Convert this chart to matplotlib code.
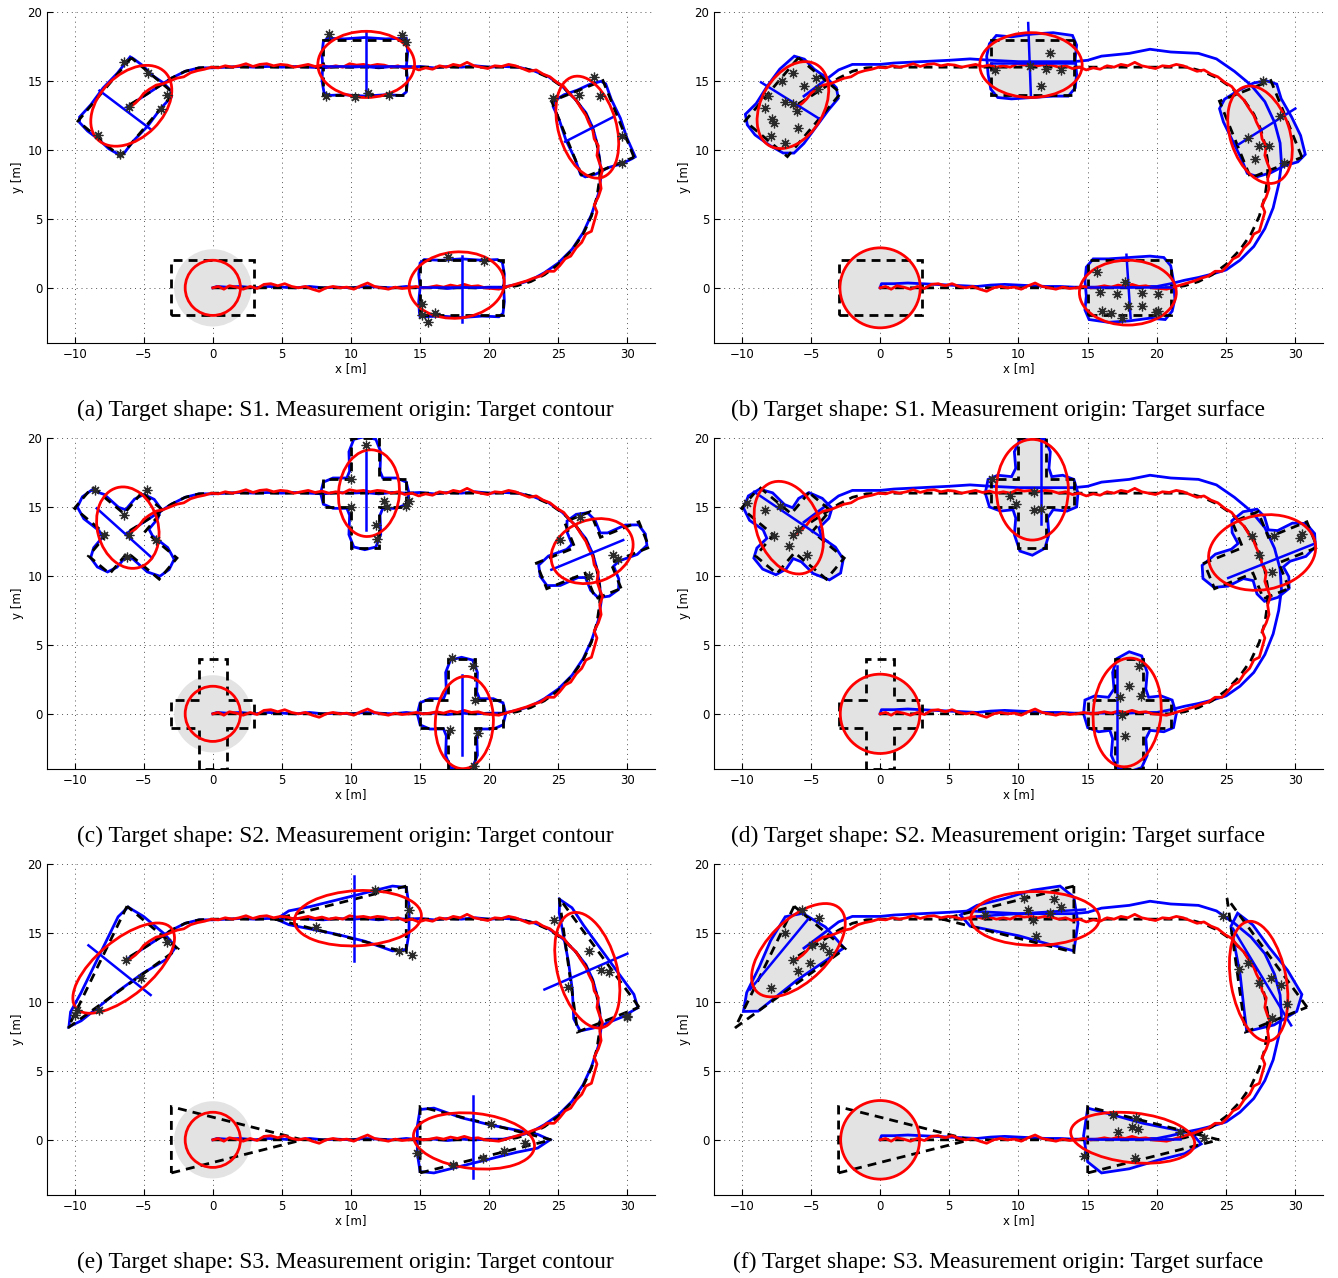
import matplotlib
matplotlib.use('Agg')
import matplotlib.pyplot as plt
from matplotlib.patches import Polygon, Ellipse, Circle
from matplotlib.transforms import Affine2D

# ---------------- data ----------------
# true target poses at the 5 snapshots
pose_x = [0, 18, 27.5, 11, -6.3]
pose_y = [0, 0, 11.5, 16, 13.1]
pose_h = [0, 0, 112, 180, 230]

# true target shapes (local coords, heading along +x)
s1_x = [-3, 3, 3, -3]
s1_y = [-2, -2, 2, 2]
s2_x = [-3, -1, -1, 1, 1, 3, 3, 1, 1, -1, -1, -3]
s2_y = [-1, -1, -4, -4, -1, -1, 1, 1, 4, 4, 1, 1]
s3_x = [-3, 6.5, -3]
s3_y = [-2.4, 0, 2.4]

# estimated contours (local coords)
b1c_x = [-3.0, -1.5, 0, 1.5, 2.7, 3.0, 3.1, 3.05, 3.1, 2.95, 2.6, 1.5, 0, -1.5, -2.7, -3.0, -3.1, -3.0, -3.1, -3.05]
b1c_y = [-2.1, -2.05, -2.15, -2.05, -2.1, -1.85, -1.0, 0, 1.0, 1.85, 2.05, 2.0, 2.1, 2.0, 2.05, 1.8, 1.0, 0, -1.0, -1.8]
b1s_x = [-2.9, -1.5, 0, 1.5, 2.6, 3.1, 3.3, 3.2, 3.0, 2.5, 1.5, 0, -1.5, -2.6, -3.1, -3.2, -3.1, -3.2]
b1s_y = [-2.3, -2.5, -2.4, -2.2, -2.3, -1.7, -0.8, 0.5, 1.6, 2.2, 2.3, 2.2, 2.1, 2.1, 1.5, 0.5, -0.6, -1.6]
b2c_x = [3.2, 3.0, 2.3, 1.3, 1.1, 1.15, 0.8, 0, -0.8, -1.15, -1.1, -1.3, -2.3, -3.0, -3.2, -3.0, -2.3, -1.3, -1.1, -1.15, -0.8, 0, 0.8, 1.15, 1.1, 1.3, 2.3, 3.0]
b2c_y = [0, 0.8, 1.1, 1.1, 1.6, 3.0, 3.9, 4.1, 3.9, 3.0, 1.6, 1.1, 1.1, 0.8, 0, -0.8, -1.1, -1.1, -1.6, -3.0, -3.9, -4.1, -3.9, -3.0, -1.6, -1.1, -1.1, -0.8]
b2s_x = [3.4, 3.1, 2.3, 1.4, 1.2, 1.3, 0.9, 0, -0.9, -1.2, -1.1, -1.5, -2.5, -3.2, -3.3, -3.0, -2.2, -1.4, -1.2, -1.3, -0.9, 0, 0.9, 1.3, 1.2, 1.5, 2.5, 3.2]
b2s_y = [0, 1.0, 1.3, 1.2, 1.8, 3.0, 4.2, 4.5, 4.0, 3.0, 1.8, 1.2, 1.3, 1.0, 0, -1.0, -1.3, -1.2, -1.8, -3.0, -3.9, -4.2, -3.9, -3.0, -1.8, -1.2, -1.3, -1.0]
b3c_x = [-3.0, -2.0, 0, 2, 4, 5.5, 6.4, 5.5, 4, 2, 0, -2, -3.0, -3.2, -3.2]
b3c_y = [2.2, 2.3, 1.6, 1.1, 0.7, 0.4, 0, -0.6, -0.9, -1.4, -1.9, -2.4, -2.3, -1.0, 1.0]
b3s_x = [-3.0, -1.5, 1, 3, 4.5, 5.2, 4.0, 2, 0, -2, -3.0, -3.3]
b3s_y = [2.3, 1.9, 1.2, 0.8, 0.5, -0.3, -1.0, -1.5, -2.1, -2.4, -1.6, 0.3]

# ground truth track (black dashed)
gt_x = [0, 21, 22, 23, 24, 25, 26, 26.8, 27.4, 27.8, 28.0, 28.0, 27.8, 27.5, 27.0, 26.3, 25.4, 24.4, 23.3, 22.2,
        21, 0, -1, -2, -3, -4, -5, -6.3]
gt_y = [0, 0, 0.15, 0.45, 0.95, 1.7, 2.75, 3.9, 5.2, 6.6, 8.0, 9.2, 10.4, 11.5, 12.6, 13.6, 14.5, 15.2, 15.7, 16.0,
        16, 16, 15.95, 15.7, 15.2, 14.55, 13.9, 13.1]

# estimated centre track (red)
red_x = [0, 0.4, 0.8, 1.2, 1.7, 2.2, 2.7, 3.2, 3.7, 4.2, 4.7, 5.2, 5.7, 6.2, 6.7, 7.2, 7.7, 8.2, 8.7, 9.2, 9.7,
         10.2, 10.7, 11.2, 11.7, 12.2, 12.7, 13.2, 13.7, 14.2, 14.7, 15.2, 15.7, 16.2, 16.7, 17.2, 17.7, 18.2,
         18.7, 19.2, 19.7, 20.2, 20.7, 21.2, 21.7, 22.2, 22.7, 23.2, 23.7, 24.2, 24.7, 25.1, 25.5, 25.9, 26.3,
         26.7, 27.0, 27.4, 27.6, 27.8, 27.6, 27.9, 28.1, 28.0, 28.2, 28.0, 27.8, 27.9, 27.6, 27.5, 27.2, 27.0,
         26.6, 26.3, 25.8, 25.4, 24.9, 24.4, 23.9, 23.4, 22.9, 22.4, 21.9, 21.4, 20.9, 20.4, 19.9, 19.4, 18.9,
         18.4, 17.9, 17.4, 16.9, 16.4, 15.9, 15.4, 14.9, 14.4, 13.9, 13.4, 12.9, 12.4, 11.9, 11.4, 10.9, 10.4,
         9.9, 9.4, 8.9, 8.4, 7.9, 7.4, 6.9, 6.4, 5.9, 5.4, 4.9, 4.4, 3.9, 3.4, 2.9, 2.4, 1.9, 1.4, 0.9, 0.4,
         -0.1, -0.6, -1.1, -1.6, -2.1, -2.6, -3.1, -3.6, -4.1, -4.6, -5.0, -5.3, -5.6, -6.0]
red_y = [0, 0.1, -0.1, 0.15, 0.05, -0.1, 0.1, -0.05, 0.25, 0.3, 0.15, 0.3, 0.1, 0.0, 0.1, -0.1, -0.25, 0.0,
         0.1, 0.0, 0.05, -0.1, 0.15, 0.35, 0.1, 0.0, -0.1, 0.05, -0.05, 0.0, 0.1, 0.0, 0.05, 0.15, 0.05, 0.2,
         0.1, 0.25, 0.1, 0.15, 0.0, -0.05, -0.1, 0.05, 0.2, 0.35, 0.5, 0.7, 0.85, 1.2, 1.2, 1.6, 2.1, 2.3, 2.9,
         3.3, 3.9, 4.1, 4.8, 5.5, 6.0, 6.6, 7.2, 7.9, 8.5, 9.0, 9.6, 10.3, 10.8, 11.4, 12.0, 12.5, 13.1, 13.6,
         14.1, 14.6, 14.9, 15.3, 15.5, 15.8, 15.7, 15.9, 16.1, 16.2, 16.05, 16.1, 15.9, 16.0, 16.1, 16.35,
         16.1, 16.2, 16.0, 16.1, 15.85, 15.95, 15.8, 16.0, 15.9, 16.1, 16.0, 16.15, 16.2, 16.1, 16.2, 16.15,
         16.25, 16.0, 16.1, 16.0, 16.15, 16.05, 16.2, 16.1, 16.0, 16.15, 16.2, 16.1, 16.25, 16.2, 16.05, 16.25,
         16.1, 16.0, 16.1, 15.95, 16.0, 15.85, 15.75, 15.6, 15.3, 15.2, 15.0, 14.8, 14.7, 14.4, 14.1, 13.7,
         13.4, 13.1]

# estimated tracks (blue): close for contour, biased for surface
bn_x = [0, 0.3, 1, 2, 3, 4, 5, 6, 7, 8, 9, 10, 11, 12, 13, 14, 15, 16, 17, 18, 19, 20, 21, 22, 23, 24, 25, 26,
        26.8, 27.4, 27.9, 28.1, 28.0, 27.8, 27.5, 27.0, 26.2, 25.3, 24.3, 23.2, 22.1, 21, 20, 19, 18, 17, 16,
        15, 14, 13, 12, 11, 10, 9, 8, 7, 6, 5, 4, 3, 2, 1, 0, -1, -2, -3, -4, -5, -6.2]
bn_y = [0, 0.1, 0.05, 0.1, 0.0, 0.1, 0.05, 0.0, 0.1, 0.0, 0.05, 0.0, 0.1, 0.05, 0.0, 0.1, 0.0, 0.05, -0.05,
        0.05, 0.0, 0.05, 0.05, 0.25, 0.55, 1.1, 1.8, 2.8, 4.0, 5.3, 6.8, 8.1, 9.3, 10.5, 11.6, 12.7, 13.7, 14.6,
        15.3, 15.75, 16.0, 16.05, 16.0, 16.1, 16.0, 16.05, 15.95, 16.05, 16.0, 16.05, 15.95, 16.05, 16.0,
        16.05, 15.95, 16.0, 16.05, 16.0, 16.05, 16.0, 16.05, 16.0, 15.95, 15.95, 15.7, 15.2, 14.55, 13.9, 13.1]
bf_x = [0, 0.1, 1, 2, 3, 4, 5, 6, 7, 8, 9, 10, 11, 12, 13, 14, 15, 16, 17, 18, 19, 20, 21, 22, 23, 24, 25, 26,
        27, 27.8, 28.4, 28.8, 29.0, 28.9, 28.5, 27.8, 26.8, 25.6, 24.3, 23, 21, 19.5, 18, 16, 15, 14, 12, 10, 8,
        6.5, 5, 3, 1, 0, -1, -2, -3, -4.3, -5.5]
bf_y = [0, 0.3, 0.3, 0.35, 0.3, 0.25, 0.2, 0.15, 0.1, 0.2, 0.25, 0.2, 0.15, 0.1, 0.1, 0.05, 0.05, 0.05, 0.05,
        0.05, 0.1, 0.1, 0.3, 0.55, 0.75, 1.0, 1.3, 2.0, 3.0, 4.3, 5.8, 7.5, 9.0, 10.5, 12.0, 13.5, 14.7, 15.7,
        16.6, 17.0, 17.1, 17.3, 17.0, 16.8, 16.5, 16.4, 16.4, 16.4, 16.5, 16.6, 16.5, 16.4, 16.3, 16.2, 16.2,
        16.2, 15.8, 14.8, 13.9]

# red extent ellipses per panel: centre x, centre y, width, height, angle
ell = {
    'a': [(0, 0, 4.0, 4.0, 0), (17.65, 0.2, 6.9, 4.8, 5), (27.1, 11.65, 7.6, 4.2, 106), (11.1, 16.2, 7.0, 4.8, 0), (-5.9, 13.2, 6.9, 4.6, 45)],
    'b': [(0, 0, 5.8, 5.8, 0), (17.9, -0.35, 7.0, 4.7, 0), (27.45, 11.1, 7.3, 4.3, 108), (10.9, 16.15, 7.4, 4.7, 0), (-6.3, 13.25, 6.8, 4.5, 60)],
    'c': [(0, 0, 4.0, 4.0, 0), (18.2, -0.63, 4.2, 6.7, -3), (27.45, 11.8, 6.1, 4.5, 20), (11.3, 16.0, 4.4, 6.3, -5), (-6.15, 13.5, 6.0, 4.4, 105)],
    'd': [(0, 0, 5.75, 5.75, 0), (17.85, 0.1, 4.9, 7.9, -5), (27.6, 11.7, 7.8, 5.4, 10), (11.0, 16.25, 5.2, 7.3, 0), (-6.6, 13.5, 7.0, 4.6, 112)],
    'e': [(0, 0, 4.0, 4.0, 0), (18.9, -0.08, 8.8, 4.0, -6), (27.1, 12.3, 8.6, 4.3, 105), (10.5, 16.07, 9.2, 4.0, 3), (-6.45, 12.45, 9.0, 4.0, 40)],
    'f': [(0, 0, 5.7, 5.7, 0), (18.25, 0.15, 9.0, 3.6, -6), (27.35, 11.5, 8.8, 4.0, 100), (11.2, 16.05, 9.3, 3.9, 0), (-5.9, 13.75, 8.5, 4.4, 45)],
}

# blue orientation lines per panel: x0, y0, x1, y1
axl = {
    'a': [(-8.2, 14.3, -4.5, 11.5), (25.5, 10.6, 29.0, 12.4), (11.05, 13.9, 11.05, 18.6), (18.0, -2.5, 18.0, 2.3), (8, 16.05, 14.3, 16.05), (15, 0.05, 21, 0.05)],
    'b': [(-8.6, 14.9, -4.3, 12.2), (25.9, 10.4, 30.0, 13.0), (10.7, 19.2, 10.9, 13.8), (17.8, 2.4, 18.1, -2.2), (8, 16.3, 14.1, 16.3), (15, 0.05, 21, 0.05)],
    'c': [(-8.4, 14.9, -4.4, 11.3), (24.5, 10.45, 29.7, 12.6), (11.1, 13.3, 11.1, 19.0), (18.0, -3.0, 18.0, 2.8)],
    'd': [(-9.1, 16.1, -3.8, 12.5), (25.15, 9.85, 31.3, 12.3), (11.6, 19.9, 11.6, 13.8), (17.1, -3.5, 17.1, 3.45)],
    'e': [(-9.0, 14.1, -4.5, 10.5), (24.0, 10.9, 30.0, 13.5), (10.2, 13.0, 10.2, 19.1), (18.8, -2.8, 18.8, 3.2)],
    'f': [(-9.4, 10.9, -5.2, 16.0), (29.7, 8.3, 25.5, 15.3), (7.0, 16.2, 14.8, 16.7), (15.0, 0.05, 21.7, 0.05)],
}

# measurements (black asterisks) per panel
meas_x = {
    'a': [-6.4, -4.7, -3.3, -3.75, -6.1, -8.3, -6.7, 8.4, 13.7, 8.2, 10.3, 11.2, 12.75, 14.0, 27.6, 28.0, 26.5, 24.6, 29.6, 29.6, 17.0, 19.6, 15.15, 15.15, 16.1, 15.6],
    'b': [-6.3, -7.1, -5.5, -4.5, -4.6, -8.1, -6.9, -8.3, -6.3, -6.0, -7.8, -7.7, -5.9, -7.9, -6.9, 8.3, 12.3, 12.0, 13.1, 11.6, 10.85, 26.6, 27.4, 28.1, 27.1, 28.9, 29.15, 27.7, 15.7, 17.7, 15.9, 17.1, 18.9, 20.05, 16.0, 16.7, 17.9, 18.9, 19.95, 20.1, 17.45],
    'c': [-8.55, -4.75, -6.4, -6.1, -4.1, -6.2, -7.9, 11.05, 10.0, 10.0, 11.8, 12.4, 12.6, 14.0, 14.2, 11.9, 26.6, 25.1, 28.95, 29.3, 27.25, 17.3, 18.85, 19.0, 17.2, 18.9, 19.2],
    'd': [-9.6, -8.3, -7.2, -5.9, -6.3, -6.6, -5.3, -7.7, 8.1, 9.4, 9.85, 11.1, 11.15, 11.65, 26.9, 27.35, 28.3, 30.5, 30.35, 28.45, 18.0, 17.35, 18.85, 17.45, 17.7, 18.7],
    'e': [-9.95, -9.8, -8.25, -6.25, -5.2, -3.3, 7.5, 11.75, 13.5, 14.4, 14.2, 24.7, 27.25, 28.1, 28.65, 25.7, 30.0, 30.0, 14.75, 17.4, 19.55, 21.1, 22.6, 20.15],
    'f': [-5.65, -4.4, -6.85, -4.9, -4.15, -6.3, -5.1, -5.9, -7.9, -3.7, 10.4, 10.7, 12.6, 13.05, 12.25, 11.05, 11.3, 7.55, 24.8, 25.95, 26.6, 27.35, 28.25, 29.0, 29.4, 28.35, 16.8, 18.5, 17.2, 18.2, 18.6, 21.7, 18.4, 14.7, 23.4],
}
meas_y = {
    'a': [16.4, 15.55, 14.0, 13.0, 13.1, 11.1, 9.7, 18.4, 18.3, 13.9, 13.85, 14.15, 14.0, 17.8, 15.3, 13.9, 14.0, 13.8, 9.05, 11.0, 2.2, 1.95, -1.2, -2.0, -1.8, -2.5],
    'b': [15.55, 15.0, 14.6, 14.4, 15.25, 13.9, 13.5, 13.05, 13.3, 12.85, 12.25, 11.95, 11.6, 11.0, 10.5, 15.8, 17.0, 15.85, 15.8, 14.6, 16.1, 10.9, 10.25, 10.25, 9.35, 12.45, 9.05, 15.0, 1.15, 0.45, -0.3, -0.45, -0.4, -0.45, -1.65, -1.8, -1.35, -1.3, -1.75, -1.7, -2.2],
    'c': [16.2, 16.2, 14.4, 13.0, 12.6, 11.4, 13.0, 19.5, 17.0, 15.0, 13.7, 15.4, 15.0, 15.05, 15.4, 12.7, 14.3, 12.6, 11.5, 11.2, 10.0, 4.05, 3.45, 1.0, -1.15, -3.8, -1.4],
    'd': [15.3, 14.8, 15.1, 13.35, 13.0, 12.15, 11.55, 12.9, 17.0, 15.8, 15.25, 16.05, 14.75, 14.85, 12.9, 11.55, 10.3, 13.05, 12.75, 12.9, 2.05, 1.25, 1.3, -0.1, -1.6, 3.45],
    'e': [9.05, 9.4, 9.45, 13.05, 11.7, 14.35, 15.45, 18.1, 13.7, 13.4, 16.7, 15.95, 13.7, 12.3, 12.15, 11.05, 9.0, 8.9, -0.95, -1.85, -1.3, -0.8, -0.25, 1.15],
    'f': [16.65, 16.1, 15.0, 14.1, 14.05, 13.05, 12.8, 12.25, 11.0, 13.6, 17.5, 16.65, 17.45, 16.9, 16.45, 15.95, 14.8, 16.3, 16.2, 12.4, 12.85, 11.4, 11.7, 11.2, 9.85, 8.8, 1.8, 1.6, 0.55, 0.95, 0.8, 0.6, -1.35, -1.15, 0.1],
}

captions = {
    'a': '(a) Target shape: S1. Measurement origin: Target contour',
    'b': '(b) Target shape: S1. Measurement origin: Target surface',
    'c': '(c) Target shape: S2. Measurement origin: Target contour',
    'd': '(d) Target shape: S2. Measurement origin: Target surface',
    'e': '(e) Target shape: S3. Measurement origin: Target contour',
    'f': '(f) Target shape: S3. Measurement origin: Target surface',
}

truth = {'a': (s1_x, s1_y), 'b': (s1_x, s1_y), 'c': (s2_x, s2_y),
         'd': (s2_x, s2_y), 'e': (s3_x, s3_y), 'f': (s3_x, s3_y)}
est = {'a': (b1c_x, b1c_y), 'b': (b1s_x, b1s_y), 'c': (b2c_x, b2c_y),
       'd': (b2s_x, b2s_y), 'e': (b3c_x, b3c_y), 'f': (b3s_x, b3s_y)}

# ---------------- figure ----------------
W, H = 1338, 1278
fig = plt.figure(figsize=(W / 100, H / 100), dpi=100)

# axes boxes in pixels: left, top, right, bottom
boxes = {'a': (47, 12, 655, 343), 'b': (714, 12, 1323, 343),
         'c': (47, 438, 655, 769), 'd': (714, 438, 1323, 769),
         'e': (47, 864, 655, 1195), 'f': (714, 864, 1323, 1195)}
cap_pos = {'a': (345, 410), 'b': (998, 410), 'c': (345, 836),
           'd': (998, 836), 'e': (345, 1262), 'f': (998, 1262)}

gray = '#e3e3e3'
dash = (0, (3.2, 2.2))

for k in 'abcdef':
    l, t, r, b = boxes[k]
    ax = fig.add_axes([l / W, 1 - b / H, (r - l) / W, (b - t) / H])
    surface = k in 'bdf'

    # gray prior / filled estimates
    if surface:
        cx0, cy0, w0, h0, a0 = ell[k][0]
        ax.add_patch(Ellipse((cx0, cy0), w0, h0, angle=a0, facecolor=gray, edgecolor='none', zorder=1))
    else:
        ax.add_patch(Circle((0, 0), 2.8, facecolor=gray, edgecolor='none', zorder=1))

    for i in range(5):
        tr = Affine2D().rotate_deg(pose_h[i]).translate(pose_x[i], pose_y[i]) + ax.transData
        sx, sy = truth[k]
        ax.add_patch(Polygon(list(zip(sx, sy)), closed=True, fill=False, edgecolor='k',
                             lw=2.0, linestyle=dash, transform=tr, zorder=4))
        if i > 0:
            ex, ey = est[k]
            ax.add_patch(Polygon(list(zip(ex, ey)), closed=True,
                                 facecolor=gray if surface else 'none',
                                 edgecolor='b', lw=2.0, transform=tr, zorder=2))

    # tracks
    if surface:
        ax.plot(bf_x, bf_y, color='b', lw=2.0, zorder=3)
    else:
        ax.plot(bn_x, bn_y, color='b', lw=2.0, zorder=3)
    ax.plot(gt_x, gt_y, color='k', lw=2.0, linestyle=dash, zorder=4)
    ax.plot(red_x, red_y, color='r', lw=2.0, zorder=5)

    for (x0, y0, x1, y1) in axl[k]:
        ax.plot([x0, x1], [y0, y1], color='b', lw=1.8, zorder=5)

    for (cx, cy, w, h, a) in ell[k]:
        ax.add_patch(Ellipse((cx, cy), w, h, angle=a, fill=False, edgecolor='r', lw=2.0, zorder=6))

    ax.plot(meas_x[k], meas_y[k], linestyle='none', marker=(8, 2, 0), markersize=7,
            markeredgecolor='#2a2a2a', markeredgewidth=0.9, zorder=7)

    ax.set_xlim(-12, 32)
    ax.set_ylim(-4, 20)
    ax.set_xticks(range(-10, 31, 5))
    ax.set_yticks(range(0, 21, 5))
    ax.tick_params(direction='in', length=4, labelsize=8.5, top=False, right=False)
    ax.grid(True, linestyle=(0, (1, 4)), color='#555555', lw=0.7)
    ax.set_axisbelow(True)
    for s in ['top', 'right']:
        ax.spines[s].set_visible(False)
    ax.set_xlabel('x [m]', fontsize=8.5, labelpad=1)
    ax.set_ylabel('y [m]', fontsize=8.5, labelpad=2)

    cx, cy = cap_pos[k]
    fig.text(cx / W, 1 - cy / H, captions[k], ha='center', va='center',
             family='Liberation Serif', fontsize=16.8)

fig.savefig('out.png', dpi=100)
